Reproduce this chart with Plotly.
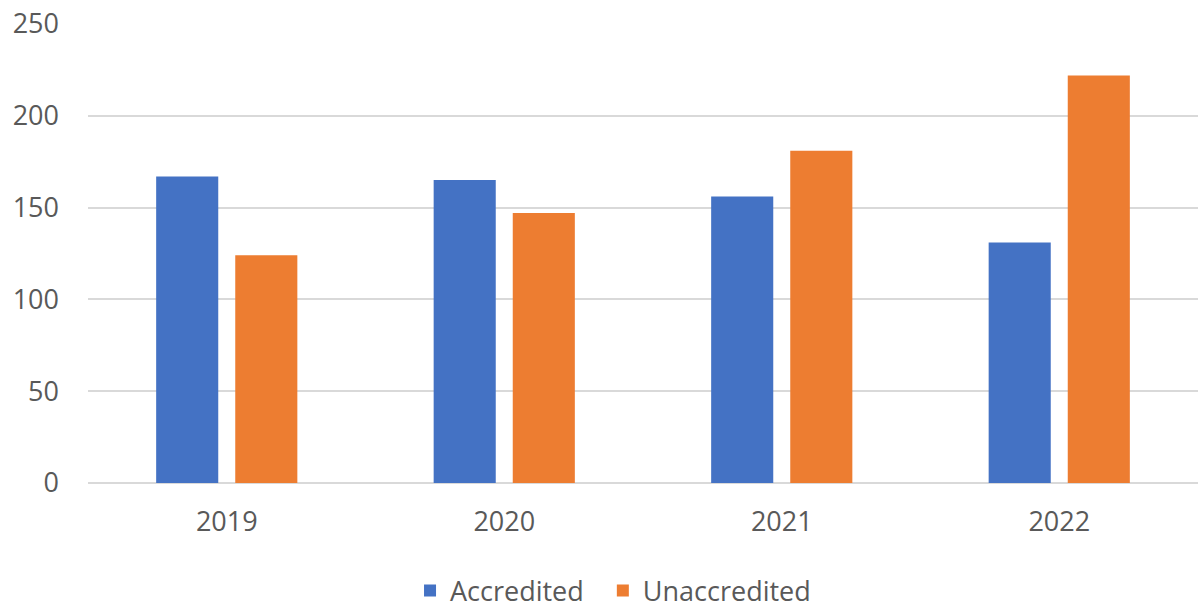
import plotly.graph_objects as go

years = ["2019", "2020", "2021", "2022"]
accredited = [167, 165, 156, 131]
unaccredited = [124, 147, 181, 222]
y_ticks = [0, 50, 100, 150, 200, 250]

font_family = "Open Sans, Noto Sans, sans-serif"
text_color = "#595959"
fs = 27

fig = go.Figure()
fig.add_trace(go.Bar(x=years, y=accredited, name="Accredited\u00a0\u00a0",
                     marker=dict(color="#4472C4", line=dict(width=0))))
fig.add_trace(go.Bar(x=years, y=unaccredited, name="Unaccredited",
                     marker=dict(color="#ED7D31", line=dict(width=0))))

fig.update_layout(
    width=1204, height=613,
    margin=dict(l=88, r=6, t=24, b=130, autoexpand=False),
    paper_bgcolor="white", plot_bgcolor="white",
    barmode="group", bargap=0.43, bargroupgap=0.215,
    font=dict(family=font_family, size=fs, color=text_color),
    showlegend=True,
    legend=dict(orientation="h", x=0.473, xanchor="center", y=-0.235, yanchor="middle",
                font=dict(size=fs, color=text_color), itemwidth=30, traceorder="normal"),
    xaxis=dict(showgrid=False, showline=False, ticks="", ticklabelstandoff=20,
               automargin=False, tickfont=dict(size=fs, color=text_color)),
    yaxis=dict(range=[0, 250], tickvals=y_ticks, showgrid=True, gridcolor="#D9D9D9",
               gridwidth=2, zeroline=True, zerolinecolor="#D9D9D9", zerolinewidth=2,
               showline=False, ticks="", ticklabelstandoff=28, automargin=False,
               tickfont=dict(size=fs, color=text_color)),
)

fig.write_html("out.html", config={"displayModeBar": False},
               post_script="document.body.style.margin='0';document.body.style.overflow='hidden';")
